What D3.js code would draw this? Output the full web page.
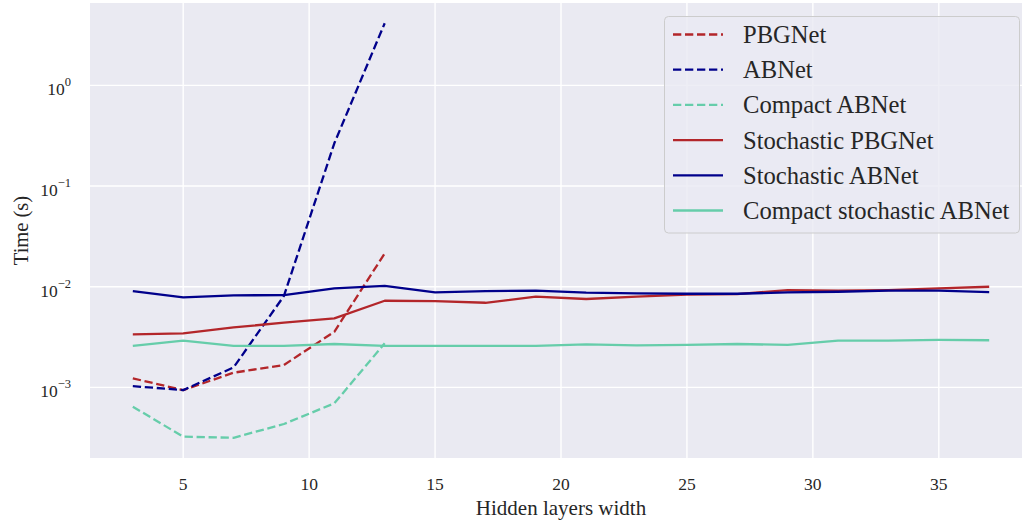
<!DOCTYPE html>
<html>
<head>
<meta charset="utf-8">
<script src="https://cdn.jsdelivr.net/npm/d3@7"></script>
<style>
  html, body { margin: 0; padding: 0; background: #ffffff; }
  svg { display: block; }
  text { font-family: "Liberation Serif", "Times New Roman", serif; fill: #262626; }
</style>
</head>
<body>
<svg id="chart" width="1022" height="523"></svg>
<script>
// ---- data ----
const widthsShort = [3, 5, 7, 9, 11, 13];
const widths = [3, 5, 7, 9, 11, 13, 15, 17, 19, 21, 23, 25, 27, 29, 31, 33, 35, 37];

const pbgnet       = [1.23e-3, 9.4e-4, 1.40e-3, 1.67e-3, 3.57e-3, 2.14e-2];
const abnet        = [1.03e-3, 9.4e-4, 1.58e-3, 8.1e-3, 0.266, 4.14];
const compactAbnet = [6.43e-4, 3.24e-4, 3.16e-4, 4.33e-4, 6.95e-4, 2.74e-3];

const stochPbgnet  = [3.37e-3, 3.44e-3, 3.95e-3, 4.39e-3, 4.85e-3, 7.26e-3, 7.21e-3, 6.93e-3, 7.96e-3,
                      7.55e-3, 7.96e-3, 8.33e-3, 8.46e-3, 9.27e-3, 9.13e-3, 9.27e-3, 9.64e-3, 1.0e-2];
const stochAbnet   = [9.06e-3, 7.85e-3, 8.2e-3, 8.27e-3, 9.64e-3, 1.02e-2, 8.80e-3, 9.06e-3, 9.13e-3,
                      8.72e-3, 8.60e-3, 8.52e-3, 8.52e-3, 8.80e-3, 8.92e-3, 9.13e-3, 9.13e-3, 8.86e-3];
const compactStoch = [2.58e-3, 2.91e-3, 2.58e-3, 2.58e-3, 2.70e-3, 2.58e-3, 2.58e-3, 2.58e-3, 2.58e-3,
                      2.68e-3, 2.62e-3, 2.64e-3, 2.70e-3, 2.64e-3, 2.91e-3, 2.91e-3, 2.96e-3, 2.94e-3];

const seriesNames = ["PBGNet", "ABNet", "Compact ABNet", "Stochastic PBGNet", "Stochastic ABNet", "Compact stochastic ABNet"];
const xTicks = [5, 10, 15, 20, 25, 30, 35];
const yTickExps = [-3, -2, -1, 0];
const xLabel = "Hidden layers width";
const yLabel = "Time (s)";

// ---- styles ----
const colRed = "#b3262a", colNavy = "#00008b", colTeal = "#66cdaa";
const series = [
  { name: seriesNames[0], xs: widthsShort, ys: pbgnet, color: colRed, dashed: true },
  { name: seriesNames[1], xs: widthsShort, ys: abnet, color: colNavy, dashed: true },
  { name: seriesNames[2], xs: widthsShort, ys: compactAbnet, color: colTeal, dashed: true },
  { name: seriesNames[3], xs: widths, ys: stochPbgnet, color: colRed, dashed: false },
  { name: seriesNames[4], xs: widths, ys: stochAbnet, color: colNavy, dashed: false },
  { name: seriesNames[5], xs: widths, ys: compactStoch, color: colTeal, dashed: false }
];

const svg = d3.select("#chart");
const pLeft = 90, pRight = 1032, pTop = 3, pBottom = 458;

const x = d3.scaleLinear().domain([1.3, 38.7]).range([pLeft, pRight]);
const y = d3.scaleLog().domain([1.99e-4, 6.58]).range([pBottom, pTop]);

svg.append("defs").append("clipPath").attr("id", "clip")
  .append("rect").attr("x", pLeft).attr("y", pTop).attr("width", pRight - pLeft).attr("height", pBottom - pTop);

// background
svg.append("rect").attr("x", pLeft).attr("y", pTop).attr("width", pRight - pLeft).attr("height", pBottom - pTop)
  .attr("fill", "#eaeaf2");

// grid
const grid = svg.append("g");
grid.selectAll("line.vx").data(xTicks).enter().append("line")
  .attr("x1", d => x(d)).attr("x2", d => x(d)).attr("y1", pTop).attr("y2", pBottom)
  .attr("stroke", "#ffffff").attr("stroke-width", 1.4);
grid.selectAll("line.hy").data(yTickExps).enter().append("line")
  .attr("y1", d => y(Math.pow(10, d))).attr("y2", d => y(Math.pow(10, d))).attr("x1", pLeft).attr("x2", pRight)
  .attr("stroke", "#ffffff").attr("stroke-width", 1.4);

// x tick labels
svg.append("g").selectAll("text").data(xTicks).enter().append("text")
  .attr("x", d => x(d)).attr("y", 490).attr("text-anchor", "middle")
  .attr("font-size", 17.5).text(d => d);

// y tick labels
const yt = svg.append("g").selectAll("text").data(yTickExps).enter().append("text")
  .attr("x", 71).attr("y", d => y(Math.pow(10, d)) + 10).attr("text-anchor", "end").attr("font-size", 17.5);
yt.append("tspan").text("10");
yt.append("tspan").attr("dy", -9).attr("font-size", 12.5).text(d => d < 0 ? "\u2212" + Math.abs(d) : String(d));

// axis labels
svg.append("text").attr("x", (pLeft + pRight) / 2).attr("y", 515).attr("text-anchor", "middle")
  .attr("font-size", 21).text(xLabel);
svg.append("text").attr("transform", `translate(27.5, ${(pTop + pBottom) / 2}) rotate(-90)`)
  .attr("text-anchor", "middle").attr("font-size", 20.5).text(yLabel);

// lines
const line = d3.line().x(d => x(d[0])).y(d => y(d[1]));
const plot = svg.append("g").attr("clip-path", "url(#clip)");
series.forEach(s => {
  plot.append("path")
    .attr("d", line(s.xs.map((v, i) => [v, s.ys[i]])))
    .attr("fill", "none").attr("stroke", s.color).attr("stroke-width", 2.3)
    .attr("stroke-linejoin", "round")
    .attr("stroke-dasharray", s.dashed ? "8.3,3.7" : null);
});

// legend
const lg = svg.append("g");
lg.append("rect").attr("x", 664.5).attr("y", 16.5).attr("width", 355).attr("height", 216.5)
  .attr("rx", 4).attr("fill", "#eaeaf2").attr("fill-opacity", 0.8)
  .attr("stroke", "#cccccc").attr("stroke-width", 1);
series.forEach((s, i) => {
  const cy = 34.5 + i * 35.2;
  lg.append("line").attr("x1", 673).attr("x2", 723).attr("y1", cy).attr("y2", cy)
    .attr("stroke", s.color).attr("stroke-width", 2.3)
    .attr("stroke-dasharray", s.dashed ? "8.3,3.7" : null);
  lg.append("text").attr("x", 743).attr("y", cy + 8.5).attr("font-size", 24.6).text(s.name);
});
</script>
</body>
</html>
